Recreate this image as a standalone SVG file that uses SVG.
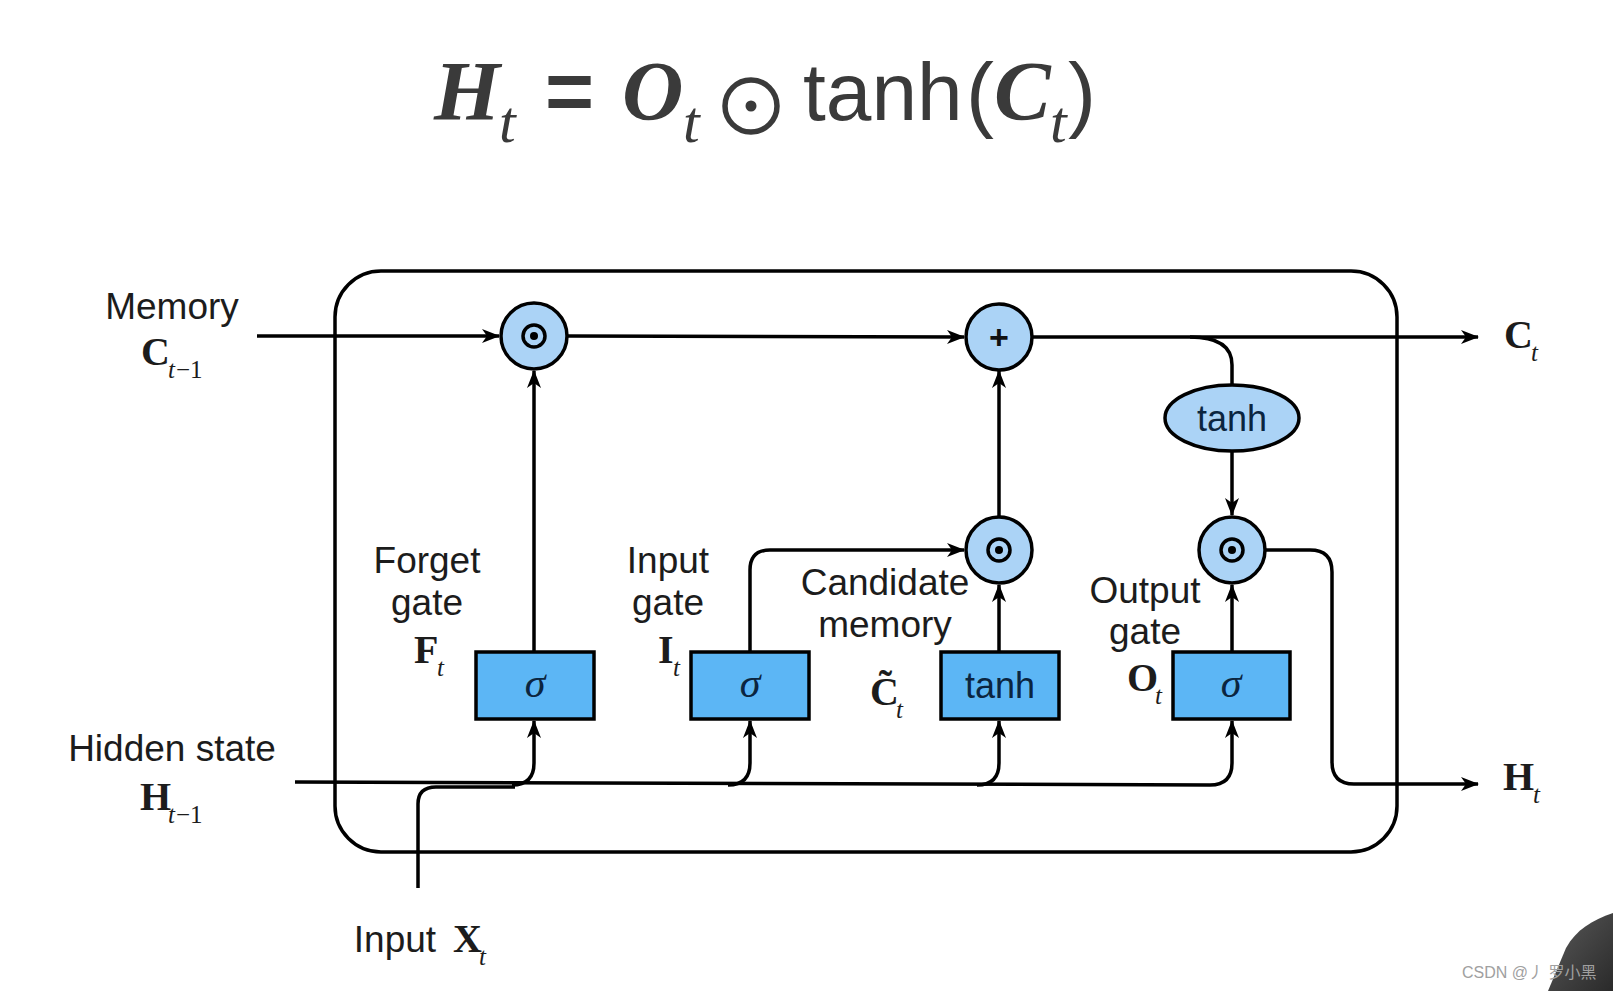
<svg xmlns="http://www.w3.org/2000/svg" width="1613" height="991" viewBox="0 0 1613 991">
<defs>
<marker id="arr" viewBox="0 0 18 14" refX="17" refY="7" markerWidth="18" markerHeight="14" markerUnits="userSpaceOnUse" orient="auto">
<path d="M0,0 L18,7 L0,14 L5,7 Z" fill="#000"/>
</marker>
<linearGradient id="blob" x1="0" y1="0" x2="1" y2="1">
<stop offset="0" stop-color="#5a5a5a"/>
<stop offset="1" stop-color="#2a2a2a"/>
</linearGradient>
</defs>
<style>
.lbl{font-family:"Liberation Sans",Arial,sans-serif;font-size:37px;fill:#1c1c1c;text-anchor:middle}
.bv{font-family:"Liberation Serif","Times New Roman",serif;font-weight:bold;font-size:40px;fill:#1c1c1c}
.sub{font-family:"Liberation Serif","Times New Roman",serif;font-style:italic;font-size:25px;fill:#1c1c1c}
.subr{font-family:"Liberation Serif","Times New Roman",serif;font-size:25px;fill:#1c1c1c}
.circ{fill:#abd3f6;stroke:#000;stroke-width:3.5}
.box{fill:#5cb6f5;stroke:#000;stroke-width:3.5}
.sig{font-family:"Liberation Serif","Times New Roman",serif;font-style:italic;font-size:42px;fill:#0b2540;text-anchor:middle}
.fn{font-family:"Liberation Sans",Arial,sans-serif;font-size:36px;fill:#0b2540;text-anchor:middle}
.con{fill:none;stroke:#000;stroke-width:3.5}
.fm{font-family:"Liberation Serif","Times New Roman",serif;font-weight:bold;font-style:italic;font-size:85px;fill:#3a3a3a}
.ft{font-family:"Liberation Serif","Times New Roman",serif;font-style:italic;font-size:60px;fill:#3a3a3a}
.fs{font-family:"Liberation Sans",Arial,sans-serif;fill:#3a3a3a}
</style>
<rect width="1613" height="991" fill="#ffffff"/>

<!-- formula -->
<g id="formula">
<text class="fm" x="434" y="120">H</text>
<text class="ft" x="499" y="142">t</text>
<text class="fs" x="545" y="120" font-size="84" font-weight="bold">=</text>
<text class="fm" x="622" y="120">O</text>
<text class="ft" x="683" y="142">t</text>
<circle cx="751" cy="106" r="26" fill="none" stroke="#3a3a3a" stroke-width="5.5"/>
<circle cx="751" cy="106" r="5.5" fill="#3a3a3a"/>
<text class="fs" x="803" y="120" font-size="82">tanh</text>
<text class="fs" x="966" y="122" font-size="84">(</text>
<text class="fm" x="994" y="120">C</text>
<text class="ft" x="1050" y="142">t</text>
<text class="fs" x="1068" y="122" font-size="84">)</text>
</g>

<!-- cell border -->
<g id="cell">
<rect x="335" y="271" width="1062" height="581" rx="46" ry="46" fill="none" stroke="#000" stroke-width="3.5"/>
</g>

<!-- connectors -->
<g id="connectors">
<path class="con" d="M257,336 L499,336" marker-end="url(#arr)"/>
<path class="con" d="M567,336 L964,337" marker-end="url(#arr)"/>
<path class="con" d="M1032,337 L1478,337" marker-end="url(#arr)"/>
<path class="con" d="M1190,337 Q1232,337 1232,365 L1232,385"/>
<path class="con" d="M1232,451 L1232,515" marker-end="url(#arr)"/>
<path class="con" d="M999,517 L999,371" marker-end="url(#arr)"/>
<path class="con" d="M534,652 L534,371" marker-end="url(#arr)"/>
<path class="con" d="M750,652 L750,570 Q750,550 770,550 L964,550" marker-end="url(#arr)"/>
<path class="con" d="M999,652 L999,585" marker-end="url(#arr)"/>
<path class="con" d="M1232,652 L1232,585" marker-end="url(#arr)"/>
<path class="con" d="M1266,550 L1310,550 Q1332,550 1332,572 L1332,762 Q1332,784 1354,784 L1478,784" marker-end="url(#arr)"/>
<path class="con" d="M295,782 L1210,785 Q1232,785 1232,763 L1232,721" marker-end="url(#arr)"/>
<path class="con" d="M512,785 Q534,785 534,763 L534,721" marker-end="url(#arr)"/>
<path class="con" d="M728,785 Q750,785 750,763 L750,721" marker-end="url(#arr)"/>
<path class="con" d="M977,785 Q999,785 999,763 L999,721" marker-end="url(#arr)"/>
<path class="con" d="M418,888 L418,804 Q418,787 436,787 L515,787"/>
</g>

<!-- nodes -->
<g id="forget-mul">
<circle class="circ" cx="534" cy="336" r="33"/>
<circle cx="534" cy="336" r="11" fill="none" stroke="#000" stroke-width="3.5"/>
<circle cx="534" cy="336" r="4" fill="#000"/>
</g>
<g id="add">
<circle class="circ" cx="999" cy="337" r="33"/>
<text x="999" y="349" font-family="Liberation Sans,Arial,sans-serif" font-size="34" font-weight="bold" fill="#111" text-anchor="middle">+</text>
</g>
<g id="cand-mul">
<circle class="circ" cx="999" cy="550" r="33"/>
<circle cx="999" cy="550" r="11" fill="none" stroke="#000" stroke-width="3.5"/>
<circle cx="999" cy="550" r="4" fill="#000"/>
</g>
<g id="out-mul">
<circle class="circ" cx="1232" cy="550" r="33"/>
<circle cx="1232" cy="550" r="11" fill="none" stroke="#000" stroke-width="3.5"/>
<circle cx="1232" cy="550" r="4" fill="#000"/>
</g>
<g id="tanh-ellipse">
<ellipse class="circ" cx="1232" cy="418" rx="67" ry="33"/>
<text class="fn" x="1232" y="431">tanh</text>
</g>
<g id="forget-gate">
<rect class="box" x="476" y="652" width="118" height="67"/>
<text class="sig" x="535" y="697">σ</text>
</g>
<g id="input-gate">
<rect class="box" x="691" y="652" width="118" height="67"/>
<text class="sig" x="750" y="697">σ</text>
</g>
<g id="cand-tanh">
<rect class="box" x="941" y="652" width="118" height="67"/>
<text class="fn" x="1000" y="698">tanh</text>
</g>
<g id="output-gate">
<rect class="box" x="1173" y="652" width="117" height="67"/>
<text class="sig" x="1231" y="697">σ</text>
</g>

<!-- labels -->
<g id="labels">
<text class="lbl" x="172" y="319">Memory</text>
<text class="bv" x="141" y="365">C</text>
<text class="sub" x="168" y="378">t</text><text class="subr" x="176" y="378">−1</text>

<text class="lbl" x="172" y="761">Hidden state</text>
<text class="bv" x="140" y="810">H</text>
<text class="sub" x="168" y="823">t</text><text class="subr" x="176" y="823">−1</text>

<text class="lbl" x="427" y="573">Forget</text>
<text class="lbl" x="427" y="615">gate</text>
<text class="bv" x="414" y="663">F</text>
<text class="sub" x="437" y="676">t</text>

<text class="lbl" x="668" y="573">Input</text>
<text class="lbl" x="668" y="615">gate</text>
<text class="bv" x="658" y="663">I</text>
<text class="sub" x="673" y="676">t</text>

<text class="lbl" x="885" y="595">Candidate</text>
<text class="lbl" x="885" y="637">memory</text>
<text class="bv" x="870" y="705">C̃</text>
<text class="sub" x="896" y="718">t</text>

<text class="lbl" x="1145" y="603">Output</text>
<text class="lbl" x="1145" y="644">gate</text>
<text class="bv" x="1127" y="691">O</text>
<text class="sub" x="1155" y="704">t</text>

<text class="bv" x="1504" y="348">C</text>
<text class="sub" x="1531" y="361">t</text>

<text class="bv" x="1503" y="790">H</text>
<text class="sub" x="1533" y="803">t</text>

<text class="lbl" x="395" y="952">Input</text>
<text class="bv" x="453" y="952">X</text>
<text class="sub" x="479" y="965">t</text>
</g>

<!-- corner -->
<path d="M1613,913 C1592,920 1576,930 1566,948 L1548,991 L1613,991 Z" fill="url(#blob)"/>
<text x="1462" y="978" font-family="Liberation Sans,Noto Sans CJK SC,sans-serif" font-size="16" fill="#a0a0a0">CSDN @丿 罗小黑</text>
</svg>
